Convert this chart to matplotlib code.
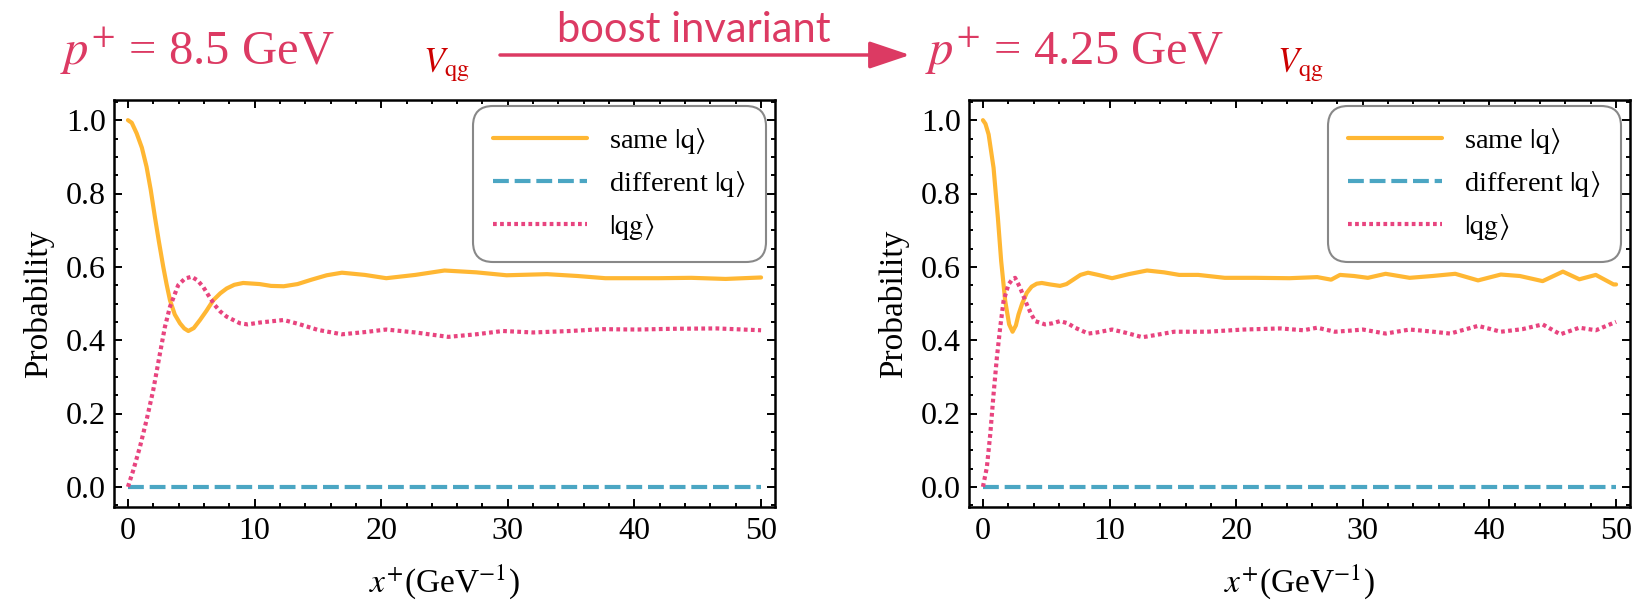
import matplotlib
matplotlib.use("Agg")
import matplotlib.pyplot as plt
from matplotlib.patches import FancyArrowPatch
from matplotlib.ticker import MultipleLocator

plt.rcParams['font.family'] = ['Liberation Serif', 'DejaVu Serif']
plt.rcParams['mathtext.fontset'] = 'stix'

# ---------------- data ----------------
# left panel: p+ = 8.5 GeV
xL_same = [0, 0.3, 0.69, 1.1, 1.47, 1.8, 2.13, 2.45, 2.79, 3.05, 3.32, 3.7, 4.11, 4.45, 4.77, 5.2,
           5.69, 6.2, 6.74, 7.3, 7.8, 8.4, 9.1, 10.4, 11.3, 12.3, 13.4, 14.5, 15.7, 16.9, 18.7,
           20.4, 22.7, 25.0, 27.5, 29.9, 33.1, 35.5, 37.7, 41.9, 44.5, 47.2, 50]
yL_same = [1.0, 0.993, 0.964, 0.925, 0.873, 0.81, 0.736, 0.668, 0.600, 0.553, 0.509, 0.47, 0.446,
           0.432, 0.425, 0.433, 0.455, 0.48, 0.509, 0.528, 0.541, 0.551, 0.556, 0.553, 0.548,
           0.547, 0.553, 0.565, 0.577, 0.584, 0.578, 0.569, 0.578, 0.590, 0.585, 0.577, 0.580,
           0.575, 0.569, 0.569, 0.570, 0.567, 0.571]
xL_qg = [0, 0.42, 0.95, 1.47, 2.0, 2.53, 2.92, 3.32, 3.97, 4.5, 5.03, 5.5, 5.95, 6.4, 6.87, 7.3,
         7.8, 8.85, 9.46, 10.4, 12.3, 13.5, 15.0, 16.9, 18.7, 20.4, 22.7, 25.3, 27.5, 29.6, 32.0,
         34.9, 37.5, 40.2, 43.0, 46.5, 50]
yL_qg = [0, 0.045, 0.109, 0.182, 0.264, 0.364, 0.436, 0.491, 0.550, 0.568, 0.573, 0.563, 0.545,
         0.52, 0.495, 0.478, 0.464, 0.446, 0.443, 0.448, 0.455, 0.444, 0.428, 0.416, 0.422, 0.429,
         0.421, 0.409, 0.416, 0.425, 0.421, 0.425, 0.430, 0.429, 0.431, 0.432, 0.427]
xL_diff = [0, 50]
yL_diff = [0, 0]

# right panel: p+ = 4.25 GeV
xR_same = [0, 0.2, 0.45, 0.84, 1.18, 1.44, 1.76, 2.07, 2.34, 2.6, 2.81, 3.1, 3.46, 3.85, 4.25,
           4.65, 5.3, 6.09, 6.6, 7.0, 7.7, 8.3, 9.1, 10.2, 11.5, 12.96, 14.3, 15.5, 17.0, 19.1,
           21.5, 24.2, 26.4, 27.5, 28.2, 29.3, 30.4, 31.8, 33.7, 35.5, 37.3, 39.1, 40.9, 42.4,
           44.2, 45.8, 47.1, 48.4, 49.8, 50]
yR_same = [1.0, 0.99, 0.961, 0.870, 0.734, 0.616, 0.507, 0.443, 0.423, 0.44, 0.470, 0.50, 0.529,
           0.546, 0.554, 0.556, 0.552, 0.548, 0.553, 0.562, 0.578, 0.584, 0.578, 0.569, 0.58,
           0.590, 0.585, 0.578, 0.578, 0.570, 0.570, 0.569, 0.572, 0.565, 0.578, 0.575, 0.570,
           0.581, 0.570, 0.575, 0.581, 0.563, 0.579, 0.575, 0.561, 0.587, 0.566, 0.578, 0.552,
           0.552]
xR_qg = [0, 0.31, 0.58, 0.84, 1.10, 1.36, 1.63, 2.02, 2.3, 2.54, 2.94, 3.2, 3.46, 3.8, 4.12, 4.9,
         5.5, 6.09, 6.7, 7.27, 8.32, 9.0, 10.2, 11.3, 12.6, 13.8, 15.1, 17.7, 20.6, 23.5, 25.3,
         26.4, 27.8, 29.0, 30.0, 31.8, 33.7, 35.3, 36.9, 39.1, 40.9, 42.6, 44.2, 45.6, 47.1,
         48.4, 50]
yR_qg = [0, 0.053, 0.144, 0.253, 0.352, 0.434, 0.507, 0.552, 0.565, 0.570, 0.543, 0.52, 0.498,
         0.472, 0.452, 0.443, 0.446, 0.452, 0.446, 0.434, 0.418, 0.421, 0.429, 0.42, 0.408, 0.415,
         0.423, 0.423, 0.429, 0.432, 0.427, 0.434, 0.423, 0.426, 0.429, 0.418, 0.429, 0.424,
         0.418, 0.439, 0.423, 0.43, 0.443, 0.416, 0.434, 0.427, 0.450]
xR_diff = [0, 50]
yR_diff = [0, 0]

labels = [r'same $|\mathrm{q}\rangle$', r'different $|\mathrm{q}\rangle$', r'$|\mathrm{qg}\rangle$']
headers = [r'$p^{+}$ = 8.5 GeV', r'$p^{+}$ = 4.25 GeV']
arrow_text = 'boost invariant'
xticks = [0, 10, 20, 30, 40, 50]
yticks = [0.0, 0.2, 0.4, 0.6, 0.8, 1.0]

# ---------------- style ----------------
C_SAME = '#FFB733'
C_DIFF = '#4BA6C3'
C_QG = '#E8447F'
C_HEAD = '#DC3A63'
C_V = '#CC0000'

W, H = 1642, 607
fig = plt.figure(figsize=(W / 100, H / 100), dpi=100)

axw = 661 / W
axh = 407 / H
axb = 100 / H
axL = fig.add_axes([114 / W, axb, axw, axh])
axR = fig.add_axes([969 / W, axb, axw, axh])

panels = [(axL, xL_same, yL_same, xL_diff, yL_diff, xL_qg, yL_qg),
          (axR, xR_same, yR_same, xR_diff, yR_diff, xR_qg, yR_qg)]

for ax, xs, ys, xd, yd, xq, yq in panels:
    ax.plot(xs, ys, color=C_SAME, lw=3.0, solid_capstyle='round', solid_joinstyle='round',
            label=labels[0], zorder=3)
    ax.plot(xd, yd, color=C_DIFF, lw=3.0, dashes=(3.8, 1.4), dash_capstyle='butt',
            label=labels[1], zorder=3)
    ax.plot(xq, yq, color=C_QG, lw=3.0, dashes=(0.9, 0.8), dash_capstyle='butt',
            label=labels[2], zorder=3)
    ax.set_xlim(-1.1, 51.1)
    ax.set_ylim(-0.055, 1.055)
    ax.set_xticks(xticks)
    ax.set_yticks(yticks)
    ax.set_xticklabels([str(t) for t in xticks])
    ax.set_yticklabels([f'{t:.1f}' for t in yticks])
    ax.xaxis.set_minor_locator(MultipleLocator(2))
    ax.yaxis.set_minor_locator(MultipleLocator(0.05))
    ax.tick_params(which='both', direction='in', top=True, right=True, width=1.4,
                   colors='black', labelsize=23)
    ax.tick_params(which='major', length=6)
    ax.tick_params(which='minor', length=3.2)
    ax.tick_params(axis='x', pad=7)
    ax.tick_params(axis='y', pad=6)
    for s in ax.spines.values():
        s.set_linewidth(1.8)
    ax.set_ylabel('Probability', fontsize=24, labelpad=8)
    ax.set_xlabel(r'$x^{+}$(GeV$^{-1}$)', fontsize=24, labelpad=12)
    leg = ax.legend(loc='upper right', bbox_to_anchor=(0.986, 0.985), fontsize=20.5,
                    frameon=True, fancybox=True, handlelength=3.3, handletextpad=0.8,
                    labelspacing=0.45, borderpad=0.7, borderaxespad=0)
    fr = leg.get_frame()
    fr.set_edgecolor('#888888')
    fr.set_linewidth(1.5)
    fr.set_alpha(1)
    fr.set_boxstyle('round', pad=0, rounding_size=0.7)

# headers
fig.text(60 / W, 1 - 65 / H, headers[0], color=C_HEAD, fontsize=35, va='baseline', ha='left')
fig.text(925 / W, 1 - 65 / H, headers[1], color=C_HEAD, fontsize=35, va='baseline', ha='left')
fig.text(423 / W, 1 - 72 / H, r'$V_{\mathrm{qg}}$', color=C_V, fontsize=25, va='baseline', ha='left')
fig.text(1277 / W, 1 - 72 / H, r'$V_{\mathrm{qg}}$', color=C_V, fontsize=25, va='baseline', ha='left')
fig.text(694 / W, 1 - 42 / H, arrow_text, color=C_HEAD, fontsize=30, va='baseline', ha='center',
         family='Lato')
arr = FancyArrowPatch((500 / W, 1 - 55 / H), (910 / W, 1 - 55 / H), transform=fig.transFigure,
                      arrowstyle='-|>,head_length=1.25,head_width=0.42', mutation_scale=20,
                      lw=2.5, color=C_HEAD, shrinkA=0, shrinkB=0)
fig.add_artist(arr)

fig.savefig('out.png', dpi=100)
